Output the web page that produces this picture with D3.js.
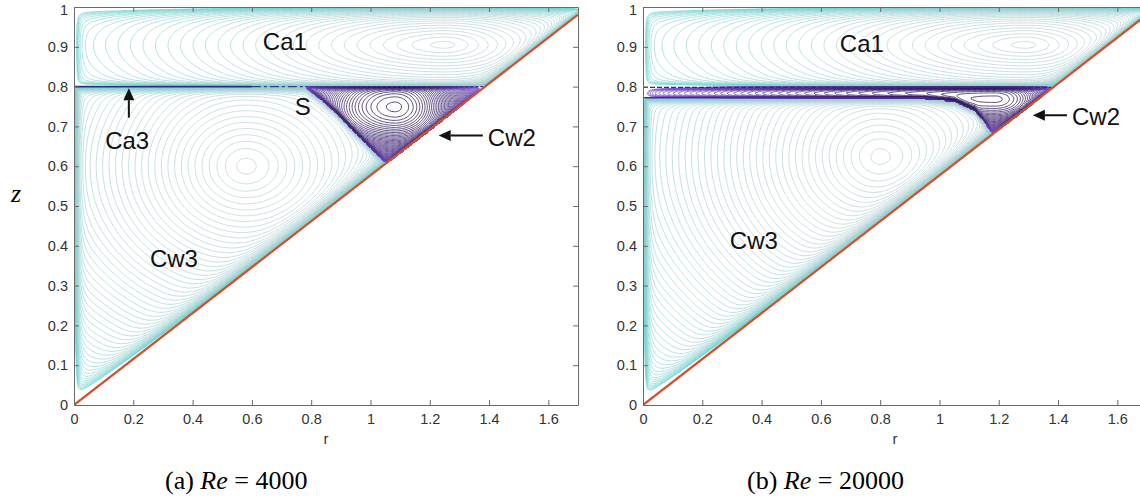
<!DOCTYPE html>
<html>
<head>
<meta charset="utf-8">
<script src="https://cdn.jsdelivr.net/npm/d3@7"></script>
<style>
  body { margin: 0; background: #fff; }
  text { font-family: "Liberation Sans", Arial, sans-serif; }
</style>
</head>
<body>
<script>
// tick values of both panels
var rTicks = [0, 0.2, 0.4, 0.6, 0.8, 1, 1.2, 1.4, 1.6];
var zTicks = [0, 0.1, 0.2, 0.3, 0.4, 0.5, 0.6, 0.7, 0.8, 0.9, 1];

// cone wall (red line)
var coneR = [0, 1.7];
var coneZ = [0, 0.981];

// vortex centres: Ca1, Cw3, Cw2
var vortexA_r = [1.25, 0.58, 1.083];
var vortexA_z = [0.905, 0.6, 0.749];
var vortexB_r = [1.29, 0.80, 1.19];
var vortexB_z = [0.905, 0.624, 0.769];

// separatrix between Cw3 (below) and Cw2 (above)
var sepA_r = [0, 0.78, 0.83, 0.887, 0.94, 0.995, 1.05];
var sepA_z = [0.8, 0.8, 0.772, 0.735, 0.693, 0.652, 0.611];
var sepB_r = [0, 0.95, 1.05, 1.12, 1.155, 1.18];
var sepB_z = [0.772, 0.772, 0.766, 0.742, 0.71, 0.68];

var k = coneZ[1] / coneR[1];
var nx = 426, nz = 251, dr = 1.7 / (nx - 1), dz = 1 / (nz - 1);

var svg = d3.select("body").append("svg")
    .attr("width", 1140)
    .attr("height", 498);

var panels = [
  {x0: 74, tag: "(a) ", re: " = 4000", sepR: sepA_r, sepZ: sepA_z, vr: vortexA_r, vz: vortexA_z, band: false, capX: 165},
  {x0: 643, tag: "(b) ", re: " = 20000", sepR: sepB_r, sepZ: sepB_z, vr: vortexB_r, vz: vortexB_z, band: true, capX: 747}
];

// stream-function-like field of one cell: zero on its walls, peak at its centre
function field(c) {
  var vals = new Float64Array(nx * nz), max = 0, maxArg = 0;
  for (var j = 0; j < nz; j++) {
    for (var i = 0; i < nx; i++) {
      var r = i * dr, z = j * dz;
      var ds = c.dist(r, z), b = 1;
      for (var m = 0; m < ds.length; m++) {
        if (ds[m] <= 0) { b = 0; break; }
        b *= 1 - Math.exp(-ds[m] / c.delta[m]);
      }
      if (b === 0) continue;
      var sr = r < c.rc ? c.srL : c.srR;
      var q = Math.pow((r - c.rc) / sr, 2) + Math.pow((z - c.zc) / c.sz, 2);
      var a = c.gauss ? q : Math.sqrt(q + 0.04);
      var v = b * Math.exp(-a);
      vals[i + j * nx] = v;
      if (v > max) max = v;
      if (a > maxArg) maxArg = a;
    }
  }
  var th = [], n = Math.ceil(maxArg / c.step) + 2;
  for (var t = 0; t < n; t++) th.push(max * Math.exp(-(t + 0.3) * c.step));
  return {vals: vals, th: th.reverse()};
}

panels.forEach(function(p, pi) {
  var x = d3.scaleLinear().domain([0, 1.7]).range([p.x0, p.x0 + 504]);
  var y = d3.scaleLinear().domain([0, 1]).range([405, 7]);
  var zs = d3.scaleLinear().domain(p.sepR).range(p.sepZ);
  var topZ = p.band ? 0.797 : 0.8;

  var g = svg.append("g");
  g.append("clipPath").attr("id", "clip" + pi)
    .append("rect")
      .attr("x", x(0)).attr("y", y(1))
      .attr("width", x(1.7) - x(0)).attr("height", y(0) - y(1));

  var cells = [
    {kind: "cyan", rc: p.vr[0], zc: p.vz[0], srL: 0.42, srR: 0.3, sz: 0.075, step: 0.1,
     dist: function(r, z) { return [r, 1 - z, z - 0.8, z - k * r]; }, delta: [0.012, 0.015, 0.006, 0.015]},
    {kind: "cyan", rc: p.vr[1], zc: p.vz[1], srL: 0.36, srR: 0.4, sz: 0.23, step: 0.06,
     dist: function(r, z) { return [r, zs(r) - z, z - k * r]; }, delta: [0.01, 0.007, 0.02]},
    {kind: "purple", gauss: true, rc: p.vr[2], zc: p.vz[2], srL: p.band ? 0.45 : 0.12, srR: 0.09,
     sz: p.band ? 0.035 : 0.05, step: 0.2,
     dist: function(r, z) { return [r, z - zs(r), topZ - z, z - k * r]; }, delta: [0.02, 0.006, 0.005, 0.007]}
  ];

  var proj = d3.geoTransform({point: function(gx, gy) {
    this.stream.point(x((gx - 0.5) * dr), y((gy - 0.5) * dz));
  }});
  var path = d3.geoPath(proj);
  var cyanCol = d3.interpolateRgb("#5fd6d3", "#b6ccd0");
  var purpleCol = d3.interpolateRgb("#8357d6", "#24104f");

  var plot = g.append("g").attr("clip-path", "url(#clip" + pi + ")");

  cells.forEach(function(c) {
    var f = field(c);
    var cs = d3.contours().size([nx, nz]).thresholds(f.th)(f.vals);
    plot.append("g").selectAll("path")
      .data(cs)
      .join("path")
        .attr("d", path)
        .attr("fill", "none")
        .attr("stroke", function(d, i) {
          var t = i / (cs.length - 1);
          return c.kind === "cyan" ? cyanCol(Math.pow(t, 0.5)) : purpleCol(Math.pow(t, 0.9));
        })
        .attr("stroke-width", c.kind === "cyan" ? 0.65 : 0.75);
  });

  // Ca3 layer lines
  if (!p.band) {
    plot.append("line")
      .attr("x1", x(0)).attr("x2", x(0.6)).attr("y1", y(0.8)).attr("y2", y(0.8))
      .attr("stroke", "#2d2a90").attr("stroke-width", 1.6);
    plot.append("line")
      .attr("x1", x(0.6)).attr("x2", x(0.78)).attr("y1", y(0.8)).attr("y2", y(0.8))
      .attr("stroke", "#3b3a9a").attr("stroke-width", 1.4).attr("stroke-dasharray", "9,3,3,3");
    plot.append("line")
      .attr("x1", x(0.78)).attr("x2", x(0.8 / k)).attr("y1", y(0.8)).attr("y2", y(0.8))
      .attr("stroke", "#4b2aa8").attr("stroke-width", 1.4).attr("stroke-dasharray", "3,2");
  } else {
    plot.append("line")
      .attr("x1", x(0)).attr("x2", x(0.8 / k)).attr("y1", y(0.798)).attr("y2", y(0.798))
      .attr("stroke", "#2d2a88").attr("stroke-width", 1.3).attr("stroke-dasharray", "5,2");
    plot.append("path")
      .datum(d3.range(0, 1.0, 0.01))
      .attr("d", d3.line().x(function(r) { return x(r); }).y(function(r) { return y(zs(r)); }))
      .attr("fill", "none").attr("stroke", "#3e2a9e").attr("stroke-width", 1.6);
  }

  // cone wall
  plot.append("line")
    .attr("x1", x(coneR[0])).attr("y1", y(coneZ[0]))
    .attr("x2", x(coneR[1])).attr("y2", y(coneZ[1]))
    .attr("stroke", "#d2502c").attr("stroke-width", 2.2);

  // axes, ticks pointing inwards
  var fmt = function(d) { return String(d); };
  var axB = g.append("g").attr("transform", "translate(0," + y(0) + ")")
    .call(d3.axisBottom(x).tickValues(rTicks).tickSizeInner(-5).tickSizeOuter(0).tickPadding(9).tickFormat(fmt));
  var axL = g.append("g").attr("transform", "translate(" + p.x0 + ",0)")
    .call(d3.axisLeft(y).tickValues(zTicks).tickSizeInner(-5).tickSizeOuter(0).tickPadding(6).tickFormat(fmt));
  var axT = g.append("g").attr("transform", "translate(0," + y(1) + ")")
    .call(d3.axisTop(x).tickValues(rTicks).tickSizeInner(-5).tickSizeOuter(0).tickFormat(""));
  var axes = [axB, axL, axT];
  if (!p.band) {
    axes.push(g.append("g").attr("transform", "translate(" + x(1.7) + ",0)")
      .call(d3.axisRight(y).tickValues(zTicks).tickSizeInner(-5).tickSizeOuter(0).tickFormat("")));
  }
  axes.forEach(function(a) {
    a.selectAll("path, line").attr("stroke", "#6a6a6a");
    a.selectAll("text").attr("fill", "#333").style("font-size", "14.5px")
      .style("font-family", "'Liberation Sans', Arial, sans-serif");
  });
  axL.selectAll(".tick text").filter(function(d) { return d === 1; }).attr("dy", "0.5em");

  g.append("text")
    .attr("x", x(0.85)).attr("y", 444)
    .attr("text-anchor", "middle")
    .style("font-size", "15px").attr("fill", "#333")
    .text("r");

  // annotations
  function label(txt, r, z) {
    g.append("text").attr("x", x(r)).attr("y", y(z))
      .style("font-size", "24px").attr("fill", "#111").text(txt);
  }
  function arrow(r1, z1, r2, z2) {
    var ax1 = x(r1), ay1 = y(z1), ax2 = x(r2), ay2 = y(z2);
    var ang = Math.atan2(ay2 - ay1, ax2 - ax1), L = 12, W = 5.5;
    var bx = ax2 - L * Math.cos(ang), by = ay2 - L * Math.sin(ang);
    g.append("line").attr("x1", ax1).attr("y1", ay1).attr("x2", bx).attr("y2", by)
      .attr("stroke", "#111").attr("stroke-width", 2);
    g.append("path")
      .attr("d", "M" + ax2 + "," + ay2 +
        "L" + (bx + W * Math.sin(ang)) + "," + (by - W * Math.cos(ang)) +
        "L" + (bx - W * Math.sin(ang)) + "," + (by + W * Math.cos(ang)) + "Z")
      .attr("fill", "#111");
  }
  if (!p.band) {
    label("Ca1", 0.637, 0.892);
    label("Ca3", 0.105, 0.644);
    arrow(0.185, 0.722, 0.185, 0.796);
    label("S", 0.745, 0.729);
    label("Cw2", 1.396, 0.652);
    arrow(1.379, 0.677, 1.23, 0.677);
    label("Cw3", 0.256, 0.346);
  } else {
    label("Ca1", 0.664, 0.887);
    label("Cw2", 1.447, 0.704);
    arrow(1.43, 0.728, 1.315, 0.728);
    label("Cw3", 0.293, 0.393);
  }

  // caption
  var cap = svg.append("text")
    .attr("x", p.capX).attr("y", 489)
    .style("font-family", "'Liberation Serif', 'Times New Roman', serif")
    .style("font-size", "26px").attr("fill", "#000");
  cap.append("tspan").text(p.tag);
  cap.append("tspan").style("font-style", "italic").text("Re");
  cap.append("tspan").text(p.re);
});

svg.append("text")
  .attr("x", 16).attr("y", 202)
  .attr("text-anchor", "middle")
  .style("font-family", "'Liberation Serif', 'Times New Roman', serif")
  .style("font-style", "italic")
  .style("font-size", "26px")
  .text("z");
</script>
</body>
</html>
